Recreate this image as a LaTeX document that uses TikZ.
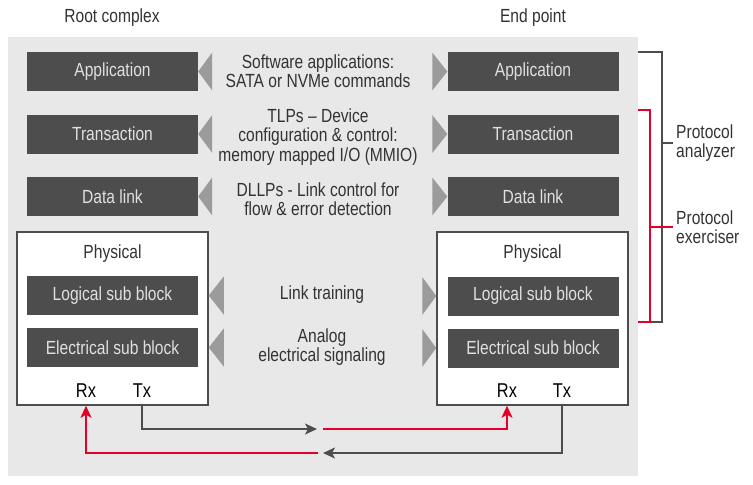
\documentclass[tikz,border=0pt]{standalone}
\usepackage{fontspec}
\setmainfont[FakeStretch = 0.82]{Liberation Sans}
\usepackage{tikz}
\usetikzlibrary{positioning}
\usetikzlibrary{arrows.meta}

\definecolor{layergray}{HTML}{4D4D4D}
\definecolor{panelgray}{HTML}{E8E8E8}
\definecolor{wedgegray}{HTML}{9B9B9B}
\definecolor{textgray}{HTML}{333333}
\definecolor{linkred}{HTML}{E4002B}

\begin{document}
\begin{tikzpicture}[x = 1pt, y = -1pt,
    layer/.style = {draw = none, fill = layergray, text = white!88!black, minimum width = 171pt, minimum height = 39pt, inner sep = 0pt, font = \fontsize{19}{19}\selectfont},
    phys/.style = {draw = layergray, line width = 1.5pt, fill = white, minimum width = 191pt, minimum height = 173pt, inner sep = 0pt},
    panel/.style = {draw = none, fill = panelgray, minimum width = 630pt, minimum height = 439pt, inner sep = 0pt},
    note/.style = {draw = none, text = textgray, align = center, font = \fontsize{19}{19.5}\selectfont},
    port/.style = {draw = none, text = black, font = \fontsize{20}{20}\selectfont},
    wedge/.style = {fill = wedgegray},
    wire/.style = {line width = 1.8pt, draw = layergray},
    redwire/.style = {line width = 1.8pt, draw = linkred},
    tip/.style = {-{Stealth[length = 12pt, width = 11pt, inset = 3pt]}}]
    \useasboundingbox (0,0) rectangle (753,485);
    \node[panel] at (323,256.5) (panel) {};

    \node[note] at (112,18) (rootLbl) {Root complex};
    \node[note] at (533,18) (endLbl) {End point};

    \node[layer] at (112.5,71.5) (appL) {Application};
    \node[layer] at (112.5,134) (trnL) {Transaction};
    \node[layer] at (112.5,196.5) (dllL) {Data link};
    \node[layer] at (533,71.5) (appR) {Application};
    \node[layer] at (533,134) (trnR) {Transaction};
    \node[layer] at (533,196.5) (dllR) {Data link};

    \node[phys] at (112.5,318.5) (phyL) {};
    \node[phys] at (532.5,318.5) (phyR) {};
    \node[note] at (112.5,254) (phyLblL) {Physical};
    \node[note] at (532.5,254) (phyLblR) {Physical};
    \node[layer] at (112.5,295.5) (logL) {Logical sub block};
    \node[layer] at (112.5,347.5) (eleL) {Electrical sub block};
    \node[layer] at (533,296) (logR) {Logical sub block};
    \node[layer] at (533,348) (eleR) {Electrical sub block};
    \node[port] at (86,391) (rxL) {Rx};
    \node[port] at (142,391) (txL) {Tx};
    \node[port] at (507,391) (rxR) {Rx};
    \node[port] at (562,391) (txR) {Tx};

    \node[note] at (318,71) (swNote) {Software applications:\\SATA or NVMe commands};
    \node[note] at (318,137) (tlpNote) {TLPs -- Device\\configuration \& control:\\memory mapped I/O (MMIO)};
    \node[note] at (318,199) (dllpNote) {DLLPs - Link control for\\flow \& error detection};
    \node[note] at (322,295) (ltNote) {Link training};
    \node[note] at (322,347) (anNote) {Analog\\electrical signaling};

    \fill[wedge] (appL.east) -- ++(14,-19) -- ++(0,38) -- cycle;
    \fill[wedge] (trnL.east) -- ++(14,-19) -- ++(0,38) -- cycle;
    \fill[wedge] (dllL.east) -- ++(14,-19) -- ++(0,38) -- cycle;
    \fill[wedge] (appR.west) -- ++(-15,-19) -- ++(0,38) -- cycle;
    \fill[wedge] (trnR.west) -- ++(-15,-19) -- ++(0,38) -- cycle;
    \fill[wedge] (dllR.west) -- ++(-15,-19) -- ++(0,38) -- cycle;
    \fill[wedge] (phyL.east |- logL.east) -- ++(15,-19) -- ++(0,38) -- cycle;
    \fill[wedge] (phyL.east |- eleL.east) -- ++(15,-19) -- ++(0,38) -- cycle;
    \fill[wedge] (phyR.west |- logR.west) -- ++(-14,-19) -- ++(0,38) -- cycle;
    \fill[wedge] (phyR.west |- eleR.west) -- ++(-14,-19) -- ++(0,38) -- cycle;

    \coordinate (midT) at (320,429);
    \coordinate (midB) at (320,453);
    \draw[wire, tip] (txL |- phyL.south) |- ([xshift = -3pt]midT);
    \draw[redwire, tip] ([xshift = 3pt]midT) -| (rxR |- phyR.south);
    \draw[wire, tip] (txR |- phyR.south) |- ([xshift = 3pt]midB);
    \draw[redwire, tip] ([xshift = -2pt]midB) -| (rxL |- phyL.south);

    \node[note, align = left, anchor = west, inner sep = 3pt] at (673,143) (anaLbl) {Protocol\\analyzer};
    \node[note, align = left, anchor = west, inner sep = 3pt] at (673,227) (exeLbl) {Protocol\\exerciser};
    \coordinate (anaTop) at (662,52);
    \coordinate (anaEnd) at (662,322);
    \coordinate (exeTop) at (650,110);
    \coordinate (exeEnd) at (650,322);
    \draw[wire] (panel.east |- anaTop) -- (anaTop) -- (anaEnd) -- (panel.east |- anaEnd);
    \draw[wire] (anaTop |- anaLbl.west) -- (anaLbl.west);
    \draw[redwire] (panel.east |- exeTop) -- (exeTop) -- (exeEnd) -- (panel.east |- exeEnd);
    \draw[redwire] (exeTop |- exeLbl.west) -- (exeLbl.west);
\end{tikzpicture}
\end{document}
